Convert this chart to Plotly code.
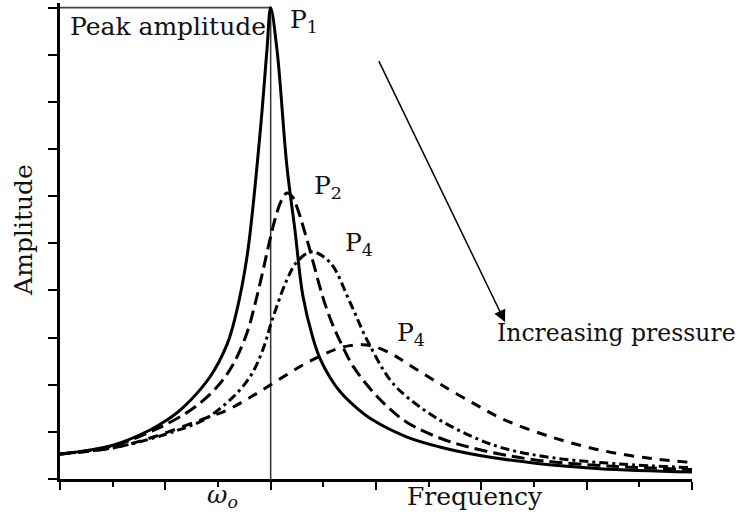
import plotly.graph_objects as go

# ---- data (x in tick units, omega_o at x=4; y in tick units 0..10) ----
p1_x = [0, 1.01, 1.71, 2.03, 2.34, 2.85, 3.17, 3.32, 3.55, 3.80, 3.93, 4.00, 4.12, 4.31, 4.46, 4.61, 4.80, 4.94, 5.13, 5.32, 5.62, 5.94, 6.59, 7.21, 7.97, 9.06, 10.25, 12.0]
p1_y = [0.53, 0.72, 1.04, 1.25, 1.52, 2.17, 2.85, 3.40, 4.71, 7.35, 9.11, 10.0, 9.11, 6.62, 5.29, 3.90, 3.0, 2.55, 2.15, 1.85, 1.52, 1.25, 0.89, 0.68, 0.50, 0.33, 0.22, 0.15]

p2_x = [0, 1.01, 1.71, 2.03, 2.53, 2.98, 3.28, 3.55, 3.70, 3.85, 3.95, 4.08, 4.20, 4.31, 4.42, 4.52, 4.71, 4.99, 5.15, 5.32, 5.56, 5.94, 6.25, 6.59, 7.21, 7.97, 9.06, 10.5, 12.0]
p2_y = [0.53, 0.70, 1.00, 1.17, 1.50, 1.95, 2.42, 3.10, 3.70, 4.40, 4.90, 5.50, 5.90, 6.07, 5.98, 5.70, 5.00, 3.86, 3.35, 2.92, 2.40, 1.85, 1.50, 1.20, 0.87, 0.62, 0.40, 0.27, 0.20]

p3_x = [0, 1.01, 1.71, 2.09, 2.72, 3.23, 3.61, 3.85, 4.03, 4.31, 4.50, 4.78, 5.13, 5.51, 5.83, 6.27, 6.59, 7.21, 7.97, 8.50, 9.36, 10.6, 12.0]
p3_y = [0.53, 0.66, 0.85, 0.98, 1.25, 1.68, 2.17, 2.74, 3.38, 4.23, 4.61, 4.82, 4.59, 3.74, 2.95, 2.10, 1.74, 1.25, 0.83, 0.63, 0.45, 0.32, 0.24]

p4_x = [0, 1.01, 1.71, 2.03, 2.66, 3.17, 3.50, 3.80, 4.20, 4.61, 5.00, 5.26, 5.50, 5.75, 6.00, 6.32, 6.59, 7.21, 7.97, 8.41, 9.36, 10.31, 11.26, 12.0]
p4_y = [0.53, 0.66, 0.87, 0.99, 1.25, 1.46, 1.66, 1.86, 2.14, 2.42, 2.64, 2.76, 2.83, 2.85, 2.80, 2.64, 2.45, 2.02, 1.53, 1.27, 0.88, 0.60, 0.43, 0.35]

omega0 = 4.0
peak = 10.0
X_MAX = 12.0
Y_MAX = 10.1

FONT = "DejaVu Serif"
INK = "#111111"

fig = go.Figure()
styles = [
    (p1_x, p1_y, "solid"),
    (p2_x, p2_y, "13px,6px"),
    (p3_x, p3_y, "9px,4px,3px,4px"),
    (p4_x, p4_y, "10px,8px"),
]
for xs, ys, dash in styles:
    fig.add_trace(go.Scatter(
        x=xs, y=ys, mode="lines",
        line=dict(color="black", width=3, dash=dash, shape="spline", smoothing=1.0),
        showlegend=False, hoverinfo="skip"))

# reference lines
fig.add_shape(type="line", x0=omega0, x1=omega0, y0=0, y1=peak,
              line=dict(color="#333333", width=1.5), layer="below")
fig.add_shape(type="line", x0=0, x1=omega0, y0=peak, y1=peak,
              line=dict(color="#444444", width=1.8), layer="below")

def txt(x, y, s, xanchor="left", size=25, angle=0, ref="data"):
    if ref == "paper":
        xr, yr = "paper", "paper"
        x, y = x / X_MAX, y / Y_MAX
    else:
        xr, yr = "x", "y"
    fig.add_annotation(x=x, y=y, xref=xr, yref=yr, text=s, showarrow=False,
                       xanchor=xanchor, yanchor="middle", textangle=angle,
                       font=dict(family=FONT, size=size, color=INK))

txt(0.15, 9.6, "Peak amplitude")
txt(4.33, 9.72, "P<sub>1</sub>")
txt(4.78, 6.2, "P<sub>2</sub>")
txt(5.37, 4.98, "P<sub>4</sub>")
txt(6.36, 3.08, "P<sub>4</sub>")
txt(8.26, 3.1, "Increasing pressure", size=23.5)
txt(7.88, -0.38, "Frequency", xanchor="center", ref="paper")
txt(3.08, -0.36, "<i>ω<sub>o</sub></i>", xanchor="center", ref="paper")
txt(-0.68, 5.29, "Amplitude", xanchor="center", angle=-90, ref="paper")

fig.add_annotation(x=8.45, y=3.33, ax=6.04, ay=8.9, xref="x", yref="y",
                   axref="x", ayref="y", text="", showarrow=True,
                   arrowhead=2, arrowsize=1.6, arrowwidth=1.5, arrowcolor="black")

fig.update_layout(
    width=739, height=518,
    margin=dict(l=60, r=47, t=3, b=39),
    paper_bgcolor="white", plot_bgcolor="white",
    xaxis=dict(range=[0, X_MAX], showgrid=False, zeroline=False, showline=True,
               linecolor="black", linewidth=2.5, ticks="outside", dtick=2, tick0=0,
               ticklen=8, tickwidth=2, tickcolor="black", showticklabels=False,
               minor=dict(dtick=1, ticks="outside", ticklen=5, tickwidth=2, tickcolor="black")),
    yaxis=dict(range=[0, Y_MAX], showgrid=False, zeroline=False, showline=True,
               linecolor="black", linewidth=2.5, ticks="outside", dtick=1, tick0=0,
               ticklen=9, tickwidth=2, tickcolor="black", showticklabels=False),
)

fig.write_html("out.html")
